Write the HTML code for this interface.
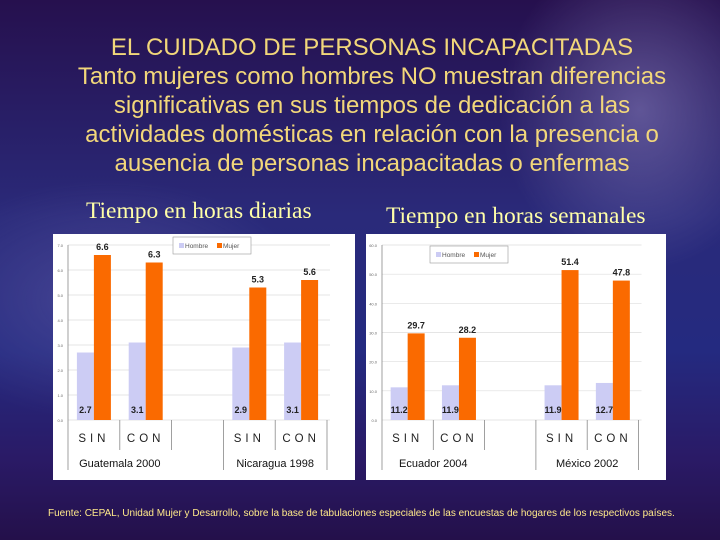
<!DOCTYPE html>
<html><head><meta charset="utf-8"><style>
body{margin:0;width:720px;height:540px;overflow:hidden;position:relative;
background:radial-gradient(ellipse 140px 160px at 640px 110px,rgba(150,140,200,.5),transparent),radial-gradient(ellipse 200px 120px at 110px 300px,rgba(130,120,190,.35),transparent),linear-gradient(180deg,#26104e 0%,#2a2a7a 40%,#242a80 65%,#2a1a66 85%,#24104a 100%);
font-family:"Liberation Sans",sans-serif}
.t{position:absolute;left:12px;width:720px;text-align:center;color:#f2d77a;font-size:24px;line-height:29px;top:33px;white-space:nowrap}
.s{position:absolute;color:#ffffa8;font-family:"Liberation Serif",serif;font-size:23.5px;white-space:nowrap}
.f{position:absolute;left:48px;top:508px;font-size:10px;color:#ffe98a;white-space:nowrap}
svg{position:absolute;left:0;top:0}
</style></head><body>
<div class="t">EL CUIDADO DE PERSONAS INCAPACITADAS<br>Tanto mujeres como hombres NO muestran diferencias<br>significativas en sus tiempos de dedicación a las<br>actividades domésticas en relación con la presencia o<br>ausencia de personas incapacitadas o enfermas</div>
<div class="s" style="left:86px;top:198px">Tiempo en horas diarias</div>
<div class="s" style="left:386px;top:203px">Tiempo en horas semanales</div>
<div class="f">Fuente: CEPAL, Unidad Mujer y Desarrollo, sobre la base de tabulaciones especiales de las encuestas de hogares de los respectivos países.</div>
<svg id="c" width="720" height="540" xmlns="http://www.w3.org/2000/svg"></svg>
<script>
const categories=["SIN","CON","","SIN","CON"];
const countriesL=["Guatemala 2000","Nicaragua 1998"];
const hombreL=[2.7,3.1,null,2.9,3.1];
const mujerL=[6.6,6.3,null,5.3,5.6];
const mujerLabelsL=["6.6","6.3","","5.3","5.6"];
const ticksL=["0.0","1.0","2.0","3.0","4.0","5.0","6.0","7.0"];
const countriesR=["Ecuador 2004","México 2002"];
const hombreR=[11.2,11.9,null,11.9,12.7];
const mujerR=[29.7,28.2,null,51.4,47.8];
const ticksR=["0.0","10.0","20.0","30.0","40.0","50.0","60.0"];
const NS="http://www.w3.org/2000/svg";
const svg=document.getElementById('c');
function mk(t,a,txt){const e=document.createElementNS(NS,t);for(const k in a)e.setAttribute(k,a[k]);if(txt!=null)e.textContent=txt;svg.appendChild(e);return e;}
function chart(o){
  const p=mk('rect',{x:o.px,y:234,width:o.pw,height:246,fill:'#fff'});
  
  
  const y0=420,yTop=245,max=o.max;
  const ys=v=>y0-(v/max)*(y0-yTop);
  const slot=o.slot,x0=o.ax;
  o.ticks.forEach((t,i)=>{const v=i*o.step;const y=ys(v);
    mk('line',{x1:x0,x2:x0+5*slot+3,y1:y,y2:y,stroke:'#ddd','stroke-width':0.7});
    const tl=mk('text',{x:x0-5,y:y+2,'font-size':4,fill:'#666','text-anchor':'end'},t);
    
    });
  mk('line',{x1:x0,x2:x0,y1:yTop,y2:470,stroke:'#888','stroke-width':0.8});
  for(let i=1;i<=5;i++){const x=x0+i*slot;const full=(i==3||i==5);
    mk('line',{x1:x,x2:x,y1:420,y2:full?470:450,stroke:'#888','stroke-width':0.8});}
  const bw=o.bw;
  categories.forEach((c,i)=>{const cx=x0+i*slot+slot/2;
    if(c){const cl=mk('text',{x:cx,y:442,'font-size':11.5,fill:'#222','text-anchor':'middle','letter-spacing':4},c);
      
      }
    if(o.h[i]==null)return;
    const hb=mk('rect',{x:cx-bw,y:ys(o.h[i]),width:bw,height:y0-ys(o.h[i]),fill:'#ccccf4'});
    
    
    const mb=mk('rect',{x:cx,y:ys(o.m[i]),width:bw,height:y0-ys(o.m[i]),fill:'#fa6a00'});
    
    
    mk('text',{x:cx-bw/2,y:413,'font-size':9,'font-weight':'bold',fill:'#222','text-anchor':'middle'},o.h[i].toFixed(1));
    mk('text',{x:cx+bw/2,y:ys(o.m[i])-5,'font-size':9,'font-weight':'bold',fill:'#222','text-anchor':'middle'},o.ml?o.ml[i]:o.m[i].toFixed(1));
  });
  o.countries.forEach((c,j)=>{const cx=x0+(j==0?slot*1:slot*4);
    const l=mk('text',{x:cx,y:467,'font-size':11,fill:'#111','text-anchor':'middle'},c);
    
    });
  const lg=mk('rect',{x:o.lx,y:o.ly,width:78,height:17,fill:'#fff',stroke:'#999','stroke-width':0.6});
  
  
  mk('rect',{x:o.lx+6,y:o.ly+6,width:5,height:5,fill:'#ccccf4'});
  mk('text',{x:o.lx+12,y:o.ly+11,'font-size':6.5,fill:'#555'},'Hombre');
  mk('rect',{x:o.lx+44,y:o.ly+6,width:5,height:5,fill:'#fa6a00'});
  mk('text',{x:o.lx+50,y:o.ly+11,'font-size':6.5,fill:'#555'},'Mujer');
}
chart({id:'daily-chart',px:53,pw:302,ax:68,slot:51.8,bw:17,max:7,step:1,ticks:ticksL,h:hombreL,m:mujerL,ml:mujerLabelsL,countries:countriesL,lx:173,ly:237});
chart({id:'weekly-chart',px:366,pw:300,ax:382,slot:51.3,bw:17,max:60,step:10,ticks:ticksR,h:hombreR,m:mujerR,countries:countriesR,lx:430,ly:246});
</script>
</body></html>
